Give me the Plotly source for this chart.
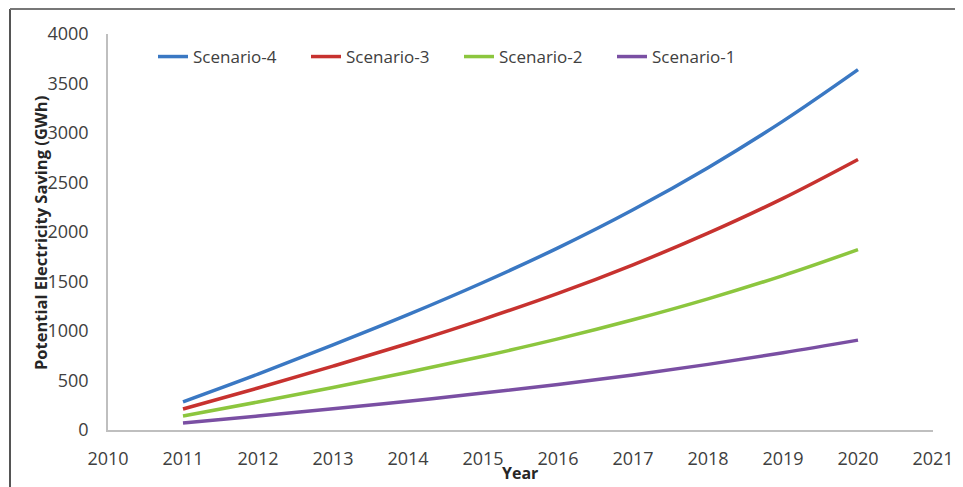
import plotly.graph_objects as go

years = [2011, 2012, 2013, 2014, 2015, 2016, 2017, 2018, 2019, 2020]
scenario_4 = [285, 565, 860, 1165, 1490, 1840, 2225, 2650, 3120, 3640]
scenario_3 = [212, 424, 645, 874, 1118, 1380, 1669, 1988, 2340, 2733]
scenario_2 = [142, 283, 430, 583, 745, 920, 1113, 1325, 1560, 1822]
scenario_1 = [70, 141, 215, 291, 373, 460, 556, 663, 780, 908]

names = ["Scenario-4", "Scenario-3", "Scenario-2", "Scenario-1"]
colors = ["#3A78C3", "#C7322F", "#8CC63E", "#7A4FA3"]
series = [scenario_4, scenario_3, scenario_2, scenario_1]

x_ticks = list(range(2010, 2022))
y_ticks = [0, 500, 1000, 1500, 2000, 2500, 3000, 3500, 4000]

fig = go.Figure()
for n, c, s in zip(names, colors, series):
    fig.add_trace(go.Scatter(x=years, y=s, mode="lines", name=n,
                             line=dict(color=c, width=3.5, shape="spline")))

# page is offset by the 8px default body margin
W, H = 963, 487
ml, mt = 100, 26
pw, ph = 825, 396
mr, mb = W - ml - pw, H - mt - ph
OFF = 8
plot_left = OFF + ml
plot_bottom = OFF + mt + ph

def px_x(px):
    return (px - plot_left) / pw

def px_y(py):
    return (plot_bottom - py) / ph

font_fam = "Open Sans, sans-serif"
fig.update_layout(
    width=W, height=H,
    margin=dict(l=ml, r=mr, t=mt, b=mb),
    paper_bgcolor="white", plot_bgcolor="white",
    font=dict(family=font_fam, size=16, color="#404040"),
    showlegend=True,
    legend=dict(orientation="h", x=px_x(153), y=px_y(57), xanchor="left", yanchor="middle",
                font=dict(size=17, color="#404040"), bgcolor="rgba(0,0,0,0)",
                entrywidth=108, entrywidthmode="pixels", traceorder="normal"),
    xaxis=dict(range=[2010, 2021], tickvals=x_ticks, ticktext=[str(v) for v in x_ticks],
               showgrid=False, zeroline=False, showline=True, linecolor="#BFBFBF", linewidth=1.5,
               ticks="outside", ticklen=12, tickcolor="rgba(0,0,0,0)",
               tickfont=dict(size=18, color="#404040")),
    yaxis=dict(range=[0, 4000], tickvals=y_ticks, showgrid=False, zeroline=False,
               showline=True, linecolor="#BFBFBF", linewidth=1.5,
               ticks="outside", ticklen=14, tickcolor="rgba(0,0,0,0)",
               tickfont=dict(size=18, color="#404040")),
    annotations=[
        dict(text="<b>Year</b>", xref="paper", yref="paper", x=px_x(520), y=px_y(473),
             xanchor="center", yanchor="middle", showarrow=False,
             font=dict(size=16, color="#262626")),
        dict(text="<b>Potential Electricity Saving (GWh)</b>", xref="paper", yref="paper",
             x=px_x(40), y=px_y(233), xanchor="center", yanchor="middle", textangle=-90,
             showarrow=False, font=dict(size=16.5, color="#262626")),
    ],
    shapes=[
        dict(type="line", xref="paper", yref="paper", x0=px_x(10), x1=px_x(10),
             y0=px_y(9), y1=px_y(495), line=dict(color="#555555", width=2)),
        dict(type="line", xref="paper", yref="paper", x0=px_x(10), x1=px_x(975),
             y0=px_y(9), y1=px_y(9), line=dict(color="#777777", width=2)),
    ],
)

fig.write_html("out.html")
